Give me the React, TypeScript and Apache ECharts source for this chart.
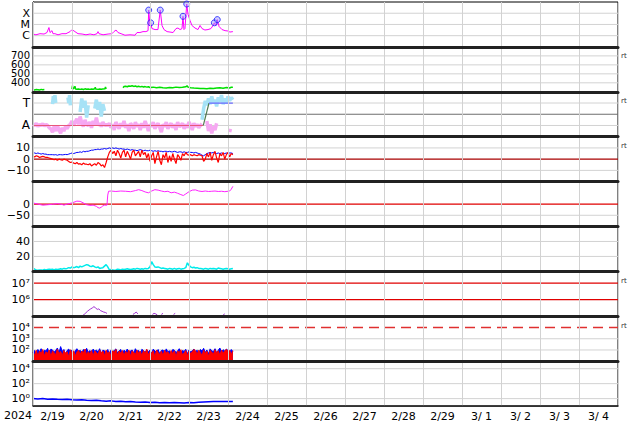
import React, { useEffect, useRef } from 'react';
import * as echarts from 'echarts';

// ---------- axis / tick text ----------
const DAY_LABELS = ['2/19', '2/20', '2/21', '2/22', '2/23', '2/24', '2/25', '2/26', '2/27', '2/28', '2/29', '3/ 1', '3/ 2', '3/ 3', '3/ 4'];
const YEAR_LABEL = '2024';
const RT_LABEL = 'rt';

// ---------- data (x = hours since 2024-02-19 00:00 UT) ----------
// Panel 1: X-ray flux (W/m2)
const xrayFlux: [number, number][] = [
  [0, 1.4e-6], [1.8, 1.2e-6], [4.3, 1.5e-6], [6.8, 1.4e-6], [8.6, 1.9e-6], [9.8, 5.3e-6], [10.5, 1.9e-6], [11.7, 2.8e-6], [12.3, 1.5e-6],
  [13.5, 1.5e-6], [15.4, 1.2e-6], [17.8, 1.5e-6], [20.3, 1.5e-6], [22.8, 2.3e-6], [24, 3.5e-6], [25.8, 2.3e-6], [27.7, 1.5e-6],
  [30.2, 1.4e-6], [32.6, 1.2e-6], [35.1, 1.4e-6], [37.5, 1.2e-6], [39.4, 1.5e-6], [40, 2.3e-6], [40.6, 1.5e-6], [43.1, 1.2e-6],
  [46.2, 1.4e-6], [48.6, 1.5e-6], [49.8, 2.3e-6], [51.1, 3.2e-6], [52.3, 1.9e-6], [54.2, 1.5e-6], [56.6, 1.1e-6], [59.7, 1.2e-6],
  [62.8, 1.1e-6], [64, 1.9e-6], [65.8, 1.9e-6], [67.7, 2.3e-6], [69.5, 2.3e-6], [70.8, 2.8e-6], [71.2, 1.9e-4], [72, 8.1e-6],
  [72.4, 1.4e-5], [73.2, 4.3e-6], [75.1, 3.5e-6], [76.9, 3.5e-6], [78.3, 1.9e-4], [79.4, 8.1e-6], [80.6, 3.5e-6], [82.5, 2.3e-6],
  [84.3, 2.1e-6], [86.2, 1.9e-6], [88, 4.3e-6], [89.2, 4.8e-6], [90.5, 3.5e-6], [91.7, 4.3e-6], [92.3, 5.3e-5], [92.9, 3.5e-6],
  [93.5, 4.3e-6], [94.6, 6.6e-4], [95.4, 8.1e-5], [96.6, 2.3e-5], [97.8, 8.1e-6], [99.7, 4.8e-6], [101.5, 3.5e-6], [102.8, 8.1e-6],
  [104, 4.3e-6], [105.8, 3.2e-6], [107.7, 3.5e-6], [109.5, 4.3e-6], [110.8, 8.1e-6], [111.6, 1.4e-5], [112.6, 8.1e-6], [113.4, 2.7e-5],
  [114.5, 6.6e-6], [116.3, 3.5e-6], [118.2, 2.8e-6], [120, 2.6e-6], [121.2, 2.1e-6], [123, 2.3e-6],
];
const flarePeaks: [number, number][] = [
  [71.2, 1.9e-4], [72.4, 1.4e-5], [78.3, 1.9e-4], [92.3, 5.3e-5], [94.6, 6.6e-4], [111.6, 1.4e-5], [113.4, 2.7e-5],
];

// Panel 2: solar wind speed (km/s)
const windSpeed: [number, number | null][] = [
  [0, 324], [1, 321], [2, 326], [3, 323], [4, 319], [5, 327], [6, 322], [7, 325], [7.4, null],
  [24, 330], [24.3, 368], [24.6, 332], [25.5, 345], [25.8, 362], [26.2, 331], [27, 328], [28, 332], [29, 327], [30, 330], [31, 326],
  [32, 333], [33, 328], [34, 330], [35, 327], [36, 331], [37, 329], [38, 333], [38.3, 352], [38.6, 330], [40, 327], [41, 332],
  [42, 328], [43, 331], [44.3, 334], [44.6, 355], [45, 331], [45.5, null],
  [55.4, 345], [56, 358], [57, 362], [58, 356], [59, 365], [60, 362], [61, 368], [62, 360], [63, 364], [64, 357], [65, 362],
  [66, 355], [67, 360], [68, 353], [69, 358], [70, 352], [71, 356], [72, 348], [74, 352], [76, 345], [78, 350], [80, 346],
  [82, 343], [84, 348], [86, 344], [88, 352], [90, 347], [92, 350], [94, 356], [94.8, 366], [95.5, 352], [97, 346], [99, 342],
  [101, 340], [103, 336], [105, 338], [107, 334], [109, 340], [111, 337], [113, 342], [115, 345], [117, 340], [119, 347],
  [121, 343], [122, 350], [123, 352],
];

// Panel 3: IMF direction (T = +1, A = -1)
const phiAway: (number | null)[] = [
  -0.9, -1, -0.8, -1.1, -0.9, -1, -0.85, -1.05, -0.9, -1, -1.2,
  -1.3, -1.6, -1.1, -1.5, -1, -1.4, -1.7, -1.2, -1.5, -1.1, -1.3, -1,
  -0.9, -0.6, -1, -0.7, -0.4, -0.9, -0.2, -0.8, -1.1, -0.5, -0.9, -1, -0.7, -1.2, -0.6, -0.9, -0.3, -1, -0.8, -1.1, -0.7, -1, -0.9,
  -1, -0.8, -1.2, -0.9, -1.4, -0.7, -1, -1.3, -0.8, -1.1, -0.6, -1.2, -0.9, -1.5, -0.8, -1, -1.3, -0.7, -1.1, -0.9,
  -1.4, -0.8, -1.2, -0.6, -1, -1.5, -0.9, -1.1, -0.7, -1.3, -1, -0.8, -1.2, -1.6, -0.9, -1.1, -0.7, -1.3, -1, -0.8,
  -1.2, -0.9, -1.4, -0.7, -1.1, -1, -0.8, -1.3, -0.9, -1.2, -0.7, -1, -1.4, -0.8, -1.1, -0.9, -1.2, -1, -0.85,
];
const phiAwayLate: [number, number | null][] = [
  [106.5, null], [107, -0.6], [108, -1.5], [109, -0.9], [110, -1.7], [111, -1.1], [112, -1.4], [113, -0.8], [113.5, null],
  [121, -1.6], [121.5, -1.3],
];
const phiToward: [number, number | null][] = [
  [12, 0.9], [12.5, 1.6], [13, 1.2], [13.5, 1.7], [14, 1.0], [14.5, null],
  [21.5, 1.5], [22, 1.0], [22.5, 1.7], [23, 0.8], [23.5, null],
  [29, 0.2], [30, 1.4], [31, 0.6], [32, 1.2], [33, -0.3], [34, 0.8], [34.5, null],
  [38, 0.5], [39, 1.3], [40, 0.4], [41, 1.1], [42, -0.2], [43, 0.9], [44, 0.3], [44.5, null],
  [104, -0.5], [105, 0.5], [106, 1.2], [107, 0.8], [108, 1.4], [109, 0.9], [110, 1.6], [111, 1.0], [112, 1.3], [113, 0.7],
  [114, 1.5], [115, 1.1], [116, 1.7], [117, 0.9], [118, 1.4], [119, 1.0], [120, 1.6], [121, 1.2], [122, 1.5], [123, 1.3],
];
const sectorAway: [number, number][] = [[0, -1], [104.8, -1]];
const sectorSwitch: [number, number][] = [[104.8, -1], [108.3, 1]];
const sectorToward: [number, number][] = [[108.3, 1], [123, 1]];

// Panel 4: IMF Bt (blue) and Bz (red), nT, hourly
const imfBt: number[] = [
  5.5, 5.5, 5, 5.5, 5, 4.5, 5, 4.5, 4.5, 4, 4,
  4, 4, 3.8, 4, 3.5, 4, 4, 3.8, 4, 4.2, 4, 4.5,
  5, 5.5, 5, 5.5, 6, 6, 6.5, 6, 7, 6.5, 7, 7,
  7.5, 8, 8, 8.5, 8.5, 9, 8.5, 9, 9, 9.5, 9, 9.5, 10, 9.5,
  10, 9.5, 10, 9.5, 9, 9.5, 9, 9, 8.5, 9, 8.5,
  8, 8.5, 8, 8, 7.5, 8, 8.5, 8, 7.5, 8, 7.5, 7.5, 8, 7.5, 7,
  7.5, 7, 7.5, 7, 7, 6.5, 7, 7, 6.5, 7, 6.5, 6.5, 7, 6.5, 6, 6.5, 6.5, 6, 6.5, 6, 6, 6.5, 6, 6, 5.5,
  6, 5.5, 5, 4.5, 3.5, 3, 4, 5, 5.5,
  6, 5.5, 6, 5.5, 5, 5.5, 5, 5.5, 5, 5, 5.5, 5, 5.5, 5.5, 5,
];
const imfBz: number[] = [
  2.5, 2, 3, 2.5, 1.5, 2, 2.5, 2, 1.5, 1.5, 1,
  0.5, 0, -0.5, 0, -1, 0, -0.5, -1, 0, -0.5,
  -1, -2, -3, -2.5, -3.5, -4, -3, -4.5, -4, -5, -3.5, -4.5,
  -4.5, -5, -4, -6, -5, -4, -5.5, -3, -4, -6, -5, -7.5,
  -3, 2, 6, 8, 5,
  7, 3, 8, 5, 1, 6, 8, 2, 7, 4, 0, 6, 8, 3, 5, 7, 2, 8, 4, 6, 1,
  5, -2, 3, 6, -4, 2, 7, -1, -5, 4, 1, 6, -3, 3, -2, 5, 0, -4, 4, 2, -1, 5, 3, 6, 4,
  3.5, 4, 3, 4, 3.5, 3, 4, 3.5, 3,
  -2, 0,
  5, 2, 6, -1, 4, 7, 1, -3, 5, 3, 6, 0, 4, 6, 2, 5, 4,
];

// Panel 5: magenta index
const panel5Values: [number, number][] = [
  [0, 5], [3, 0], [6, -5], [9, -3], [12, -1], [15, 2], [18, -2], [19, -5], [21, 0], [24, 5], [27, 13], [29, 12], [31, 5],
  [33, -3], [35, -6], [37, -5], [39, -10], [40, -16], [41, -18], [42, -14], [43, -8], [44, -5], [45.5, -5], [46, 40],
  [46.5, 57], [48, 58], [51, 56], [54, 58], [57, 57], [60, 55], [63, 60], [65, 64], [67, 60], [69, 54], [71, 50], [73, 58],
  [75, 64], [77, 62], [79, 58], [81, 55], [83, 57], [85, 50], [87, 53], [89, 48], [91, 42], [92.5, 38], [94, 45], [96, 55],
  [98, 62], [100, 63], [102, 58], [104, 56], [106, 58], [108, 56], [110, 57], [112, 58], [114, 56], [116, 57], [118, 55],
  [120, 57], [121, 58], [122, 66], [123, 79],
];

// Panel 6: density (cyan), hourly
const density: number[] = [
  4.3, 3, 2, 1.5, 2, 2, 1.5, 2.5,
  2, 2.5, 3, 2.5, 3, 2, 3, 2.5, 3, 3.5, 3, 4, 3.5,
  4, 5, 4.5, 6, 5, 5.5, 6.5, 5, 7, 6,
  7, 8, 9, 8.5, 7, 6.5, 7.5, 6, 5, 6,
  4, 4.5, 5, 7, 9, 6,
  2, 2.5, 2, 1.5, 2, 3, 2.5, 2, 3, 2.5,
  3, 3.5, 3, 2.5, 3, 3.5, 3, 4, 3.5, 3, 3.5, 3, 4, 3.5,
  4, 6, 13, 9, 6, 5.5, 6, 5, 4, 4.5,
  4, 3.5, 3, 4, 3.5, 3, 4, 3, 3.5, 4, 3, 3.5, 4,
  5, 11.5, 8, 6, 5, 5.5, 4.5, 5, 4,
  4, 3.5, 3, 4, 3.5, 3, 4, 3.5, 4, 3.5, 3, 4.5, 4, 3.5, 3, 3.5, 4, 3.5, 3, 3.5, 4,
];

// Panel 7: electron flux (purple)
const electronFlux: [number, number | null][] = [
  [30.5, 1.1e5], [31.5, 1.3e5], [32.5, 1.6e5], [33.5, 2e5], [34.5, 2.4e5], [35.5, 2.8e5], [36.5, 3.2e5], [37.5, 3.8e5],
  [38.5, 3.2e5], [39.5, 2.6e5], [40.5, 2.8e5], [41.5, 2.2e5], [42.5, 2e5], [43.5, 1.8e5], [44.5, 1.7e5], [45.5, 1.5e5], [46, null],
  [61.5, 1.3e5], [62.5, 1.5e5], [63.5, 1.8e5], [64.5, 1.4e5], [65, null],
  [73.5, 1.3e5], [74.5, 1.5e5], [75.5, 1.4e5], [76.5, 1.2e5], [77, null], [79, 1.3e5], [80, 1.5e5], [80.5, null],
  [86.5, 1.3e5], [87.5, 1.5e5], [88, null],
  [117, 1.2e5], [118, 1.4e5], [118.5, null],
];

// Panel 8: proton counts, red (area) and blue, hourly
const protonRed: number[] = [
  60, 35, 95, 28, 80, 45, 110, 30, 70, 50, 100, 25, 85, 55, 40, 115, 45, 75, 30, 90,
  50, 70, 25, 105, 45, 85, 30, 65, 95, 40, 80, 55, 120, 35, 70, 45, 90, 28, 85, 60,
  40, 100, 55, 80, 30, 95, 45, 70, 25, 85, 60, 110, 35, 80, 50, 90, 30, 75, 45, 100,
  28, 85, 60, 40, 95, 50, 80, 30, 90, 45, 115, 35, 75, 50, 85, 25, 100, 60, 40, 80,
  30, 95, 55, 70, 35, 90, 45, 85, 25, 80, 60, 105, 35, 55, 90, 30, 80, 45, 70, 110,
  85, 40, 95, 60, 30, 100, 50, 80, 28, 90, 65, 40, 105, 55, 85, 35, 95, 50, 80, 115,
  70, 90, 40, 85,
];
const protonBlue: number[] = [
  60, 90, 40, 110, 70, 130, 50, 95, 80, 140, 45, 120, 100, 65, 90, 150, 55, 200, 75, 110,
  40, 90, 120, 60, 100, 35, 85, 130, 70, 95, 50, 110, 80, 140, 60, 90, 45, 120, 75, 100,
  65, 130, 50, 95, 85, 60, 110, 40, 100, 70, 90, 125, 55, 85, 110, 45, 95, 70, 120, 60,
  80, 100, 50, 130, 75, 90, 40, 115, 85, 60, 105, 70, 95, 50, 120, 80, 65, 110, 45, 90,
  100, 55, 125, 70, 85, 40, 110, 95, 60, 80, 130, 50, 90, 75, 115, 45, 100, 65, 85, 120,
  70, 95, 55, 110, 80, 140, 60, 100, 45, 125, 85, 70, 130, 55, 95, 150, 65, 105, 80, 120,
  90, 60, 110, 75,
];

// Panel 9: blue index (log)
const panel9Values: [number, number][] = [
  [0, 1.0], [3, 0.9], [6, 1.0], [9, 0.85], [12, 0.9], [15, 0.8], [18, 0.75], [21, 0.8], [24, 0.7], [27, 0.65], [30, 0.7],
  [33, 0.6], [36, 0.55], [39, 0.6], [42, 0.5], [45, 0.45], [48, 0.5], [51, 0.4], [54, 0.45], [57, 0.38], [60, 0.4], [63, 0.35],
  [66, 0.33], [69, 0.36], [72, 0.3], [75, 0.32], [78, 0.28], [81, 0.3], [84, 0.27], [87, 0.3], [90, 0.28], [93, 0.26], [96, 0.3],
  [99, 0.28], [102, 0.32], [105, 0.35], [108, 0.38], [111, 0.4], [114, 0.42], [117, 0.4], [120, 0.42], [123, 0.4],
];

// ---------- layout ----------
const GRID_LEFT = 33;
const GRID_W = 585;
const GRID_TOP0 = 2;
const GRID_H = 44.9;
const N_PANELS = 9;
const X_MAX = 360;
const FONT = 'DejaVu Sans';
const GRID_GRAY = '#d2d2d2';
const RED_LINE = '#e00000';

const hourly = (arr: (number | null)[]) => arr.map((v, i) => [i, v]);

function buildOption() {
  const grid: any[] = [];
  const xAxis: any[] = [];
  const yAxis: any[] = [];
  const series: any[] = [];

  for (let i = 0; i < N_PANELS; i++) {
    grid.push({
      left: GRID_LEFT, width: GRID_W, top: GRID_TOP0 + i * GRID_H, height: GRID_H,
      show: true, borderColor: '#000', borderWidth: 1, backgroundColor: 'transparent',
    });
    xAxis.push({
      type: 'value', gridIndex: i, min: 0, max: X_MAX, interval: 24, position: 'bottom',
      axisLine: { show: true, onZero: false, lineStyle: { color: '#222', width: i === N_PANELS - 1 ? 1.5 : 3 } },
      axisTick: { show: false }, axisLabel: { show: false },
      splitLine: { show: true, lineStyle: { color: GRID_GRAY, width: 1 } },
      z: 6,
    });
  }
  // day labels on the bottom panel
  xAxis.push({
    type: 'category', gridIndex: N_PANELS - 1, data: DAY_LABELS, boundaryGap: true, position: 'bottom',
    axisLine: { show: false }, axisTick: { show: false }, splitLine: { show: false },
    axisLabel: { show: true, interval: 0, fontSize: 11, fontFamily: FONT, color: '#000', margin: 5 },
  });

  const baseY = (i: number, extra: any, labels: Record<string, string>, isLog: boolean, fontSize = 11, lineHeight = 12) => ({
    gridIndex: i,
    axisLine: { show: true, onZero: false, lineStyle: { color: '#000', width: 1 } },
    axisTick: { show: false },
    splitLine: { show: false },
    minorSplitLine: { show: false },
    axisLabel: {
      fontSize, lineHeight, fontFamily: FONT, color: '#000', margin: 3,
      formatter: (v: number) => {
        let key: string;
        if (isLog) {
          const e = Math.log10(v);
          if (Math.abs(e - Math.round(e)) > 0.01) return '';
          key = String(Math.round(e));
        } else key = String(v);
        return labels[key] ?? '';
      },
    },
    ...extra,
  });

  yAxis.push(baseY(0, { type: 'log', min: 1e-7, max: 1e-3, splitNumber: 4 }, { '-4': 'X', '-5': 'M', '-6': 'C' }, true, 11, 10));
  yAxis.push(baseY(1, { type: 'value', min: 300, max: 800, interval: 100 }, { '400': '400', '500': '500', '600': '600', '700': '700' }, false, 10, 8));
  yAxis.push(baseY(2, { type: 'value', min: -2, max: 2, interval: 1 }, { '1': 'T', '-1': 'A' }, false, 12));
  yAxis.push(baseY(3, { type: 'value', min: -20, max: 20, interval: 10 }, { '10': '10', '0': '0', '-10': '\u221210' }, false, 11, 10));
  yAxis.push(baseY(4, { type: 'value', min: -100, max: 100, interval: 50 }, { '0': '0', '-50': '\u221250' }, false, 11, 10));
  yAxis.push(baseY(5, { type: 'value', min: 0, max: 60, interval: 20 }, { '20': '20', '40': '40' }, false));
  yAxis.push(baseY(6, { type: 'log', min: 1e5, max: 5e7, splitNumber: 2 }, { '6': '10\u2076', '7': '10\u2077' }, true));
  yAxis.push(baseY(7, { type: 'log', min: 1e1, max: 1e5, splitNumber: 4 }, { '2': '10\u00b2', '3': '10\u00b3', '4': '10\u2074' }, true, 11, 10));
  yAxis.push(baseY(8, { type: 'log', min: 1e-1, max: 1e5, splitNumber: 6 }, { '0': '10\u2070', '2': '10\u00b2', '4': '10\u2074' }, true));

  // horizontal reference lines drawn as two-point series through the axes
  const hLine = (i: number, v: number, color: string, width = 1, type: any = 'solid') => ({
    type: 'line', xAxisIndex: i, yAxisIndex: i, data: [[0, v], [X_MAX, v]], showSymbol: false, symbol: 'none',
    silent: true, z: 1, lineStyle: { color, width, type }, itemStyle: { color },
  });

  [1e-4, 1e-5, 1e-6].forEach((v) => series.push(hLine(0, v, GRID_GRAY)));
  [400, 500, 600, 700].forEach((v) => series.push(hLine(1, v, GRID_GRAY)));
  [1, -1].forEach((v) => series.push(hLine(2, v, GRID_GRAY)));
  series.push(hLine(2, 0, '#6e6e6e', 1.2));
  [10, -10].forEach((v) => series.push(hLine(3, v, GRID_GRAY)));
  series.push(hLine(3, 0, '#a80000', 1.2));
  series.push(hLine(4, -50, GRID_GRAY));
  series.push(hLine(4, 0, RED_LINE, 1.2));
  [20, 40].forEach((v) => series.push(hLine(5, v, GRID_GRAY)));
  [1e6, 1e7].forEach((v) => series.push(hLine(6, v, RED_LINE, 1.2)));
  [1e2, 1e3].forEach((v) => series.push(hLine(7, v, GRID_GRAY)));
  series.push(hLine(7, 1e4, '#e03030', 1.5, [10, 6]));
  [1, 1e2, 1e4].forEach((v) => series.push(hLine(8, v, GRID_GRAY)));

  const line = (i: number, data: any[], color: string, width = 1, extra: any = {}) => ({
    type: 'line', xAxisIndex: i, yAxisIndex: i, data, showSymbol: false, symbol: 'none',
    lineStyle: { color, width }, itemStyle: { color }, connectNulls: false, silent: true, z: 3, ...extra,
  });

  // panel 1
  series.push(line(0, xrayFlux, '#ff00ff', 1));
  series.push({
    type: 'scatter', xAxisIndex: 0, yAxisIndex: 0, data: flarePeaks, symbol: 'circle', symbolSize: 6, z: 4, silent: true,
    itemStyle: { color: 'rgba(150,150,255,0.55)', borderColor: '#1a1aff', borderWidth: 1 },
  });
  // panel 2
  series.push(line(1, windSpeed, '#00e000', 1.5));
  // panel 3
  series.push(line(2, hourly(phiAway), '#f6a8f2', 3.5));
  series.push(line(2, phiAwayLate, '#f6a8f2', 3.5));
  series.push(line(2, phiToward, '#a6e2f6', 3.5));
  series.push(line(2, sectorAway, '#e8587a', 1.2, { z: 5 }));
  series.push(line(2, sectorSwitch, '#4f7a4f', 1.2, { z: 5 }));
  series.push(line(2, sectorToward, '#6a6aff', 1.2, { z: 5 }));
  // panel 4
  series.push(line(3, hourly(imfBt), '#0000ff', 1));
  series.push(line(3, hourly(imfBz), '#ff0000', 1.2));
  // panel 5
  series.push(line(4, panel5Values, '#ff22ff', 1));
  // panel 6
  series.push(line(5, hourly(density), '#00eaea', 1.5));
  // panel 7
  series.push(line(6, electronFlux, '#a030d0', 1));
  // panel 8
  series.push(line(7, hourly(protonBlue), '#0000ff', 1, { z: 2, areaStyle: { color: '#0000ff', opacity: 1, origin: 'start' } }));
  series.push(line(7, hourly(protonRed), '#ff0000', 1, { z: 3, areaStyle: { color: '#ff0000', opacity: 1, origin: 'start' } }));
  // panel 9
  series.push(line(8, panel9Values, '#0000ff', 1.5));

  const rtY = [56.5, 101.5, 146.5, 281.5, 326.5];
  const graphic: any[] = [
    { type: 'text', left: 4, top: 410, style: { text: YEAR_LABEL, font: `11px "${FONT}"`, fill: '#000' } },
    ...rtY.map((y) => ({ type: 'text', left: 621, top: y - 4, style: { text: RT_LABEL, font: `7px "${FONT}"`, fill: '#333' } })),
  ];

  return { animation: false, backgroundColor: '#fff', grid, xAxis, yAxis, series, graphic };
}

export default function App() {
  const ref = useRef<HTMLDivElement>(null);
  useEffect(() => {
    if (!ref.current) return;
    const chart = echarts.init(ref.current, null, { renderer: 'svg' });
    chart.setOption(buildOption() as any);
    return () => chart.dispose();
  }, []);
  return <div ref={ref} style={{ position: 'fixed', left: 0, top: 0, width: 634, height: 424, background: '#fff' }} />;
}
